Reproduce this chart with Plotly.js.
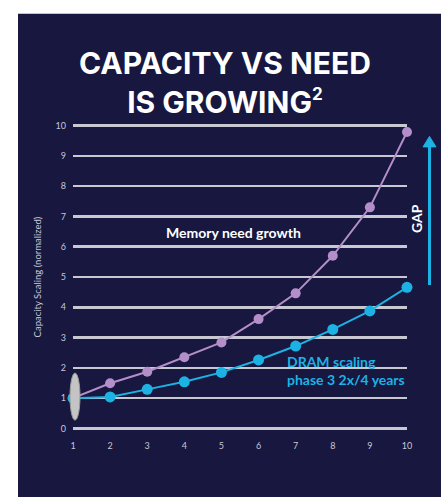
<!DOCTYPE html>
<html>
<head>
<meta charset="utf-8">
<script src="https://cdn.plot.ly/plotly-3.0.1.min.js"></script>
<style>html,body{margin:0;padding:0;background:#fff;}#chart{width:441px;height:497px;}</style>
</head>
<body>
<div id="chart"></div>
<script>
const years = [1, 2, 3, 4, 5, 6, 7, 8, 9, 10];
const memoryNeed = [1.0, 1.49, 1.87, 2.35, 2.84, 3.61, 4.46, 5.70, 7.30, 9.79];
const dramScaling = [1.0, 1.04, 1.29, 1.54, 1.85, 2.26, 2.72, 3.27, 3.88, 4.66];
const yTicks = [0, 1, 2, 3, 4, 5, 6, 7, 8, 9, 10];
const xTicks = [1, 2, 3, 4, 5, 6, 7, 8, 9, 10];

const W = 441, H = 497;
const yPad = 0.25;
const unitY = 30.26;
const L = 73, R = 34, T = 125.7 - yPad * unitY, B = 68.7 - yPad * unitY;
const pw = W - L - R, ph = H - T - B;
const px = v => (v - L) / pw;          // pixel x -> paper
const py = v => (H - B - v) / ph;      // pixel y -> paper

const navy = '#17173f';
const purple = '#b48ec8';
const blue = '#1cb2e4';

const traces = [
  {x: years, y: memoryNeed, type: 'scatter', mode: 'lines+markers', cliponaxis: false,
   line: {color: purple, width: 2}, marker: {color: purple, size: 10}, hoverinfo: 'skip'},
  {x: years, y: dramScaling, type: 'scatter', mode: 'lines+markers', cliponaxis: false,
   line: {color: blue, width: 2}, marker: {color: blue, size: 11}, hoverinfo: 'skip'}
];

const layout = {
  width: W, height: H,
  margin: {l: L, r: R, t: T, b: B, pad: 0},
  paper_bgcolor: '#ffffff',
  plot_bgcolor: 'rgba(0,0,0,0)',
  showlegend: false,
  font: {family: 'Lato, "Open Sans", sans-serif', color: '#c8c8d8'},
  title: {
    text: 'CAPACITY VS NEED<br>IS GROWING<sup><span style="font-size:17px">2</span></sup>',
    font: {family: 'Inter, "Open Sans", sans-serif', size: 30, color: '#ffffff', weight: 700},
    x: 0.51, xanchor: 'center', y: 1 - 74 / H, yanchor: 'middle'
  },
  xaxis: {
    range: [1, 10], tickvals: xTicks, ticktext: xTicks.map(String),
    showgrid: false, zeroline: false, showline: false, ticks: '',
    tickfont: {size: 9, color: '#c8c8d8'}, ticklabelstandoff: 3, fixedrange: true
  },
  yaxis: {
    range: [-yPad, 10 + yPad], tickvals: yTicks, ticktext: yTicks.map(String),
    showgrid: true, gridcolor: '#c8c8d2', gridwidth: 2.5,
    zeroline: false, showline: false, ticks: '',
    tickfont: {size: 9, color: '#c8c8d8'}, ticklabelstandoff: 6,
    title: {text: 'Capacity Scaling (normalized)', font: {size: 9.5, color: '#c8c8d8'}, standoff: 12},
    fixedrange: true
  },
  shapes: [
    {type: 'rect', xref: 'paper', yref: 'paper', layer: 'below',
     x0: px(18), x1: px(441), y0: py(497), y1: py(14),
     fillcolor: navy, line: {width: 0}},
    {type: 'circle', xref: 'paper', yref: 'paper', layer: 'above',
     x0: px(70), x1: px(80), y0: py(420), y1: py(373),
     fillcolor: '#c4c4c4', line: {color: '#9a9a9a', width: 1}},
    {type: 'line', xref: 'paper', yref: 'paper', layer: 'above',
     x0: px(429.5), x1: px(429.5), y0: py(285), y1: py(146),
     line: {color: blue, width: 3}},
    {type: 'path', xref: 'paper', yref: 'paper', layer: 'above',
     path: 'M ' + px(423) + ' ' + py(147) + ' L ' + px(436) + ' ' + py(147) +
           ' L ' + px(429.5) + ' ' + py(136.5) + ' Z',
     fillcolor: blue, line: {color: blue, width: 1}}
  ],
  annotations: [
    {text: '<b>Memory need growth</b>', xref: 'paper', yref: 'paper',
     x: px(233), y: py(233), xanchor: 'center', yanchor: 'middle', showarrow: false,
     font: {family: 'Lato, sans-serif', size: 14, color: '#ffffff'}},
    {text: '<b>DRAM scaling<br>phase 3 2x/4 years</b>', xref: 'paper', yref: 'paper',
     x: px(285), y: py(370), xanchor: 'left', yanchor: 'middle', align: 'left', showarrow: false,
     font: {family: 'Lato, sans-serif', size: 14, color: blue}},
    {text: '<b>GAP</b>', xref: 'paper', yref: 'paper', textangle: -90,
     x: px(417), y: py(218), xanchor: 'center', yanchor: 'middle', showarrow: false,
     font: {family: 'Lato, sans-serif', size: 14, color: '#ffffff'}}
  ]
};

Plotly.newPlot('chart', traces, layout, {staticPlot: true, displayModeBar: false});
</script>
</body>
</html>
